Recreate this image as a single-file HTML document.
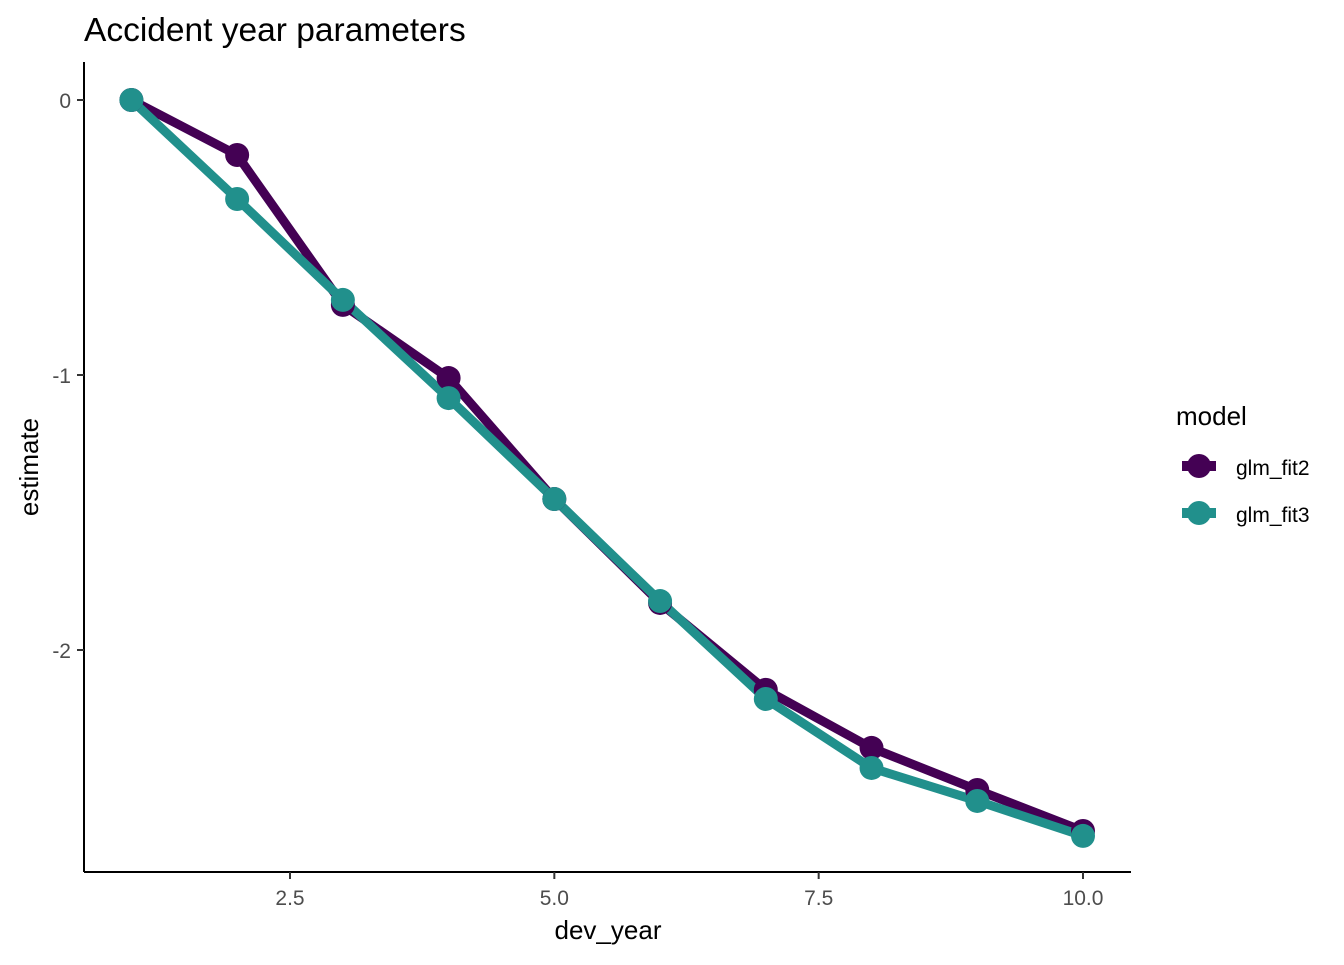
<!DOCTYPE html>
<html><head><meta charset="utf-8"><style>
body{margin:0;background:#fff;}
svg text{font-family:"Liberation Sans",sans-serif;}
</style></head><body>
<svg id="c" width="1344" height="960" xmlns="http://www.w3.org/2000/svg">
<text x="84" y="41" font-size="33.5" fill="#000">Accident year parameters</text>
<g id="plot"></g>
<line x1="84" y1="62" x2="84" y2="872" stroke="#000" stroke-width="2"/>
<line x1="84" y1="872" x2="1131" y2="872" stroke="#000" stroke-width="2"/>
<g id="ticks"></g>
<text x="608" y="939" font-size="26" text-anchor="middle">dev_year</text>
<text transform="translate(38,467) rotate(-90)" font-size="26" text-anchor="middle">estimate</text>
<text x="1176" y="425" font-size="26">model</text>
<g>
<line x1="1182" y1="466" x2="1216" y2="466" stroke="#440154" stroke-width="10"/>
<circle cx="1199" cy="466" r="12" fill="#440154"/>
<text x="1236" y="475" font-size="21">glm_fit2</text></g>
<g>
<line x1="1182" y1="513" x2="1216" y2="513" stroke="#21908C" stroke-width="10"/>
<circle cx="1199" cy="513" r="12" fill="#21908C"/>
<text x="1236" y="522" font-size="21">glm_fit3</text></g>
</svg>
<script>
const devYears=[1,2,3,4,5,6,7,8,9,10];
const fit2=[0,-0.2,-0.745,-1.011,-1.451,-1.829,-2.145,-2.356,-2.509,-2.658];
const fit3=[0,-0.36,-0.727,-1.084,-1.451,-1.822,-2.178,-2.429,-2.549,-2.676];
const xTicks=[2.5,5.0,7.5,10.0];
const xTickLabels=["2.5","5.0","7.5","10.0"];
const yTicks=[0,-1,-2];
const yTickLabels=["0","-1","-2"];
const NS="http://www.w3.org/2000/svg";
function xs(v){return 290+(v-2.5)*(1083-290)/7.5;}
function ys(v){return 100+(-v)*275;}
const plot=document.getElementById('plot'),ticks=document.getElementById('ticks');
function mk(tag,attrs,parent){const e=document.createElementNS(NS,tag);for(const k in attrs)e.setAttribute(k,attrs[k]);parent.appendChild(e);return e;}
const series=[[fit2,"#440154","glm-fit2"],[fit3,"#21908C","glm-fit3"]];
series.forEach(([vals,col,nm])=>{
  const pts=vals.map((v,i)=>xs(devYears[i])+","+ys(v)).join(" ");
  const pl=mk('polyline',{points:pts,fill:"none",stroke:col,"stroke-width":9,"stroke-linejoin":"round"},plot);
  
  
});
series.forEach(([vals,col,nm])=>{
  vals.forEach((v,i)=>{
    const c=mk('circle',{cx:xs(devYears[i]),cy:ys(v),r:12,fill:col},plot);
    
    
  });
});
xTicks.forEach((t,i)=>{
  const l=mk('line',{x1:xs(t),x2:xs(t),y1:872,y2:879,stroke:"#333","stroke-width":2},ticks);
  
  
  const tx=mk('text',{x:xs(t),y:905,"font-size":21,"text-anchor":"middle",fill:"#4d4d4d"},ticks);
  tx.textContent=xTickLabels[i];
  
  
});
yTicks.forEach((t,i)=>{
  const l=mk('line',{x1:77,x2:84,y1:ys(t),y2:ys(t),stroke:"#333","stroke-width":2},ticks);
  
  
  const tx=mk('text',{x:71,y:ys(t)+8,"font-size":21,"text-anchor":"end",fill:"#4d4d4d"},ticks);
  tx.textContent=yTickLabels[i];
  
  
});
</script>
</body></html>
